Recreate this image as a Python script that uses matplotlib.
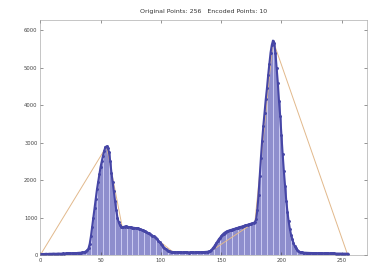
import numpy as np
import matplotlib
matplotlib.use('Agg')
import matplotlib.pyplot as plt

# histogram values, bins 0..255
counts = [
    # 0-39 flat background
    20, 25, 30, 28, 32, 35, 30, 33, 36, 34, 38, 40, 37, 35, 39, 42, 40, 38, 41, 44,
    42, 45, 43, 47, 45, 48, 50, 46, 52, 55, 53, 58, 60, 62, 65, 70, 75, 85, 100, 130,
    # 40-56 left peak rise
    180, 300, 500, 750, 1000, 1250, 1500, 1750, 1950, 2150, 2350, 2500, 2650, 2780,
    2880, 2900, 2860,
    # 57-68 fall
    2750, 2500, 2200, 1950, 1700, 1450, 1200, 1000, 880, 800, 760, 740,
    # 69-97 shoulder
    750, 760, 770, 760, 750, 745, 740, 735, 730, 725, 720, 715, 710, 700, 690, 680,
    665, 650, 635, 620, 600, 580, 560, 540, 520, 500, 480, 450, 420,
    # 98-110
    380, 340, 300, 260, 220, 190, 160, 140, 120, 105, 95, 88, 82,
    # 111-140 valley
    80, 78, 76, 75, 74, 73, 72, 72, 71, 70, 70, 70, 69, 70, 71, 70, 72, 72, 73, 74,
    75, 76, 77, 78, 80, 82, 84, 87, 92, 100,
    # 141-178 rise
    110, 140, 180, 220, 270, 320, 370, 420, 460, 500, 540, 575, 600, 620, 635, 650,
    660, 670, 680, 690, 700, 710, 720, 730, 740, 750, 760, 770, 780, 790, 800, 810,
    820, 830, 840, 850, 860, 880,
    # 179-193 right peak rise
    950, 1200, 1600, 2100, 2600, 3050, 3450, 3800, 4150, 4450, 4800, 5100, 5400,
    5600, 5720,
    # 194-216 fall
    5650, 5400, 5000, 4600, 4100, 3700, 3200, 2700, 2250, 1850, 1450, 1150, 900, 700,
    540, 420, 320, 240, 180, 140, 110, 90, 75,
    # 217-255 tail
    70, 66, 64, 62, 60, 58, 57, 56, 55, 54, 53, 52, 52, 51, 50, 50, 49, 48, 48, 47,
    46, 46, 45, 45, 44, 44, 43, 43, 42, 42, 41, 41, 40, 40, 40, 39, 39, 38, 38,
]
bins = np.arange(len(counts))

# simplified polyline (10 points)
kept_x = [0, 55, 68, 85, 97, 110, 140, 178, 193, 255]
kept_y = [0, 2900, 740, 680, 420, 82, 75, 880, 5720, 0]

title = 'Original Points: 256   Encoded Points: 10'

fig = plt.figure(figsize=(3.73, 2.66), dpi=100)
ax = fig.add_axes([0.108, 0.041, 0.876, 0.884])

ax.bar(bins, counts, width=1.0, color='#c8c8f0', edgecolor='#7070bc', linewidth=0.4)
ax.plot(kept_x, kept_y, color='#e2b98c', linewidth=0.7)
ax.plot(bins, counts, color='#4646a6', linewidth=1.5, marker='.', markersize=2.2)

ax.set_xlim(0, 271)
ax.set_ylim(0, 6270)
ax.set_xticks([0, 50, 100, 150, 200, 250])
ax.set_yticks([0, 1000, 2000, 3000, 4000, 5000, 6000])
ax.tick_params(direction='in', length=2, width=0.4, labelsize=3.8, colors='#444444',
               top=True, right=True, pad=2)
for s in ax.spines.values():
    s.set_linewidth(0.4)
    s.set_color('#999999')
ax.set_title(title, fontsize=4.5, color='#333333', pad=5)

fig.savefig('out.png', dpi=100)
